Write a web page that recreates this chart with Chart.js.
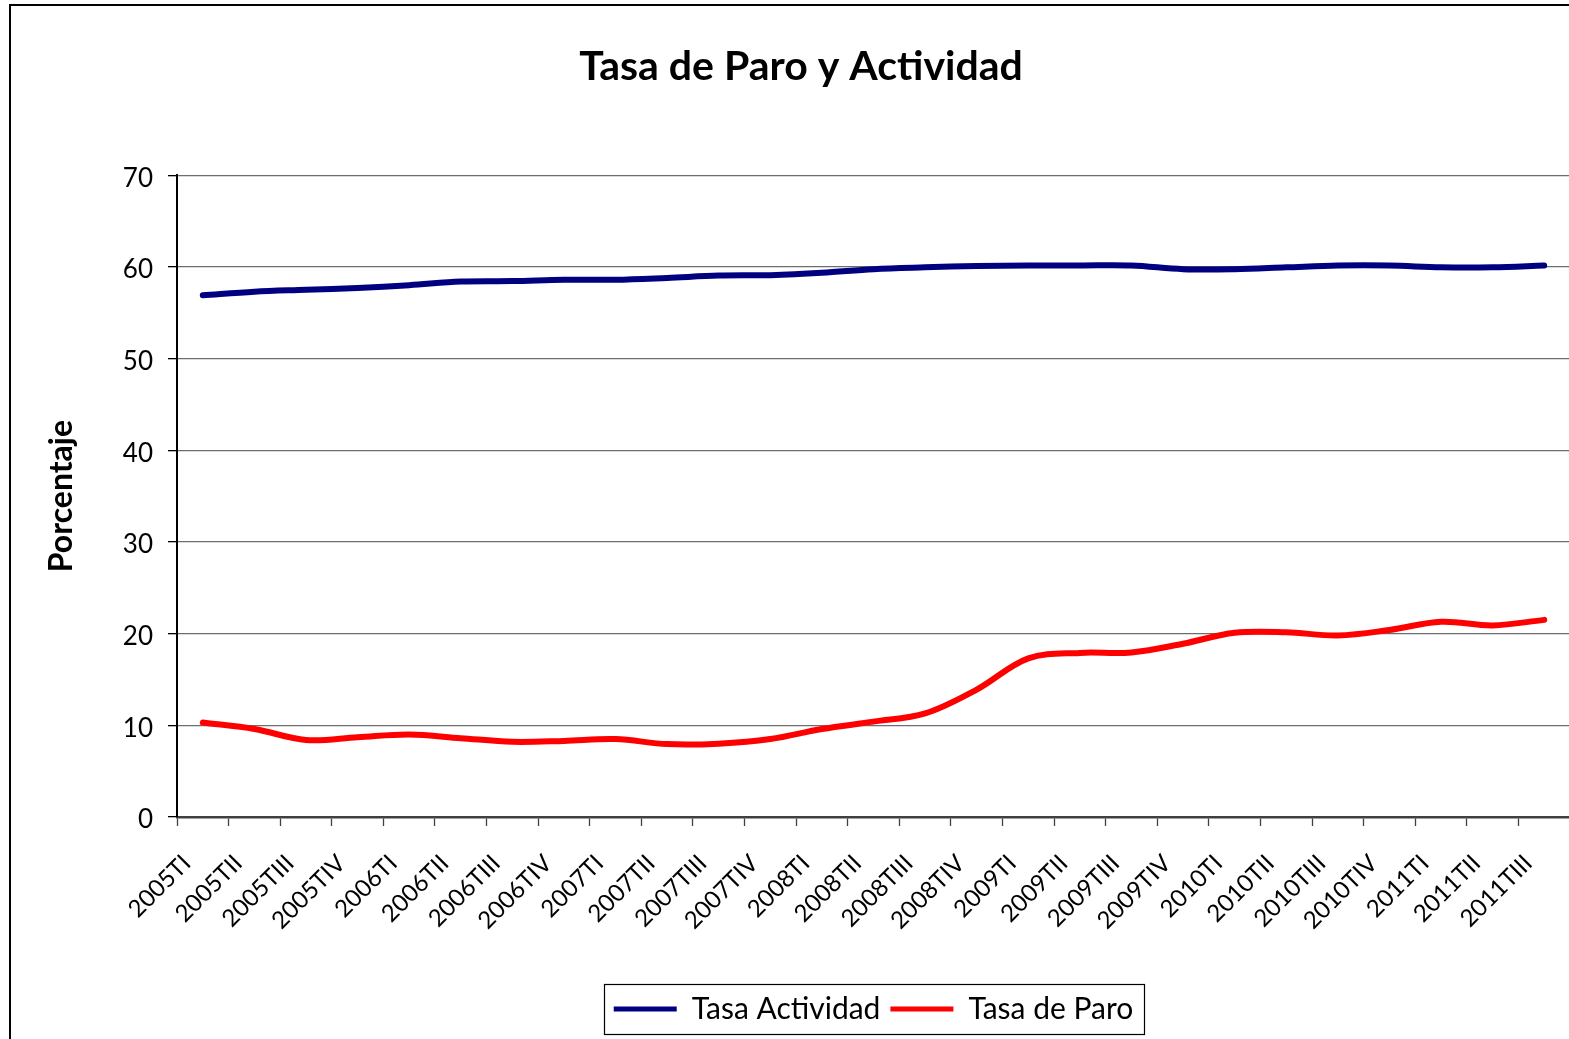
<!DOCTYPE html>
<html>
<head>
<meta charset="utf-8">
<title>Tasa de Paro y Actividad</title>
<script src="https://cdn.jsdelivr.net/npm/chart.js@4.4.1/dist/chart.umd.min.js"></script>
<style>
  html, body { margin: 0; padding: 0; overflow: hidden; background: #fff; }
  #frame {
    position: absolute; left: 9px; top: 4px;
    width: 1580px; height: 1050px;
    border: 2px solid #000;
  }
</style>
</head>
<body>
<div id="frame"><canvas id="chart"></canvas></div>
<script>
// trimestres
const quarters = [
  "2005TI", "2005TII", "2005TIII", "2005TIV",
  "2006TI", "2006TII", "2006TIII", "2006TIV",
  "2007TI", "2007TII", "2007TIII", "2007TIV",
  "2008TI", "2008TII", "2008TIII", "2008TIV",
  "2009TI", "2009TII", "2009TIII", "2009TIV",
  "2010TI", "2010TII", "2010TIII", "2010TIV",
  "2011TI", "2011TII", "2011TIII"
];

// Tasa Actividad (%)
const tasaActividad = [
  56.9, 57.3, 57.5, 57.7, 58.0, 58.4, 58.45, 58.6,
  58.6, 58.8, 59.05, 59.1, 59.35, 59.75, 59.95, 60.1,
  60.15, 60.15, 60.15, 59.75, 59.75, 59.95, 60.15, 60.15,
  59.95, 59.95, 60.15
];

// Tasa de Paro (%)
const tasaParo = [
  10.3, 9.6, 8.4, 8.7, 9.0, 8.6, 8.2, 8.3,
  8.5, 7.95, 8.0, 8.5, 9.6, 10.4, 11.3, 13.9,
  17.3, 17.9, 17.95, 18.9, 20.1, 20.15, 19.8, 20.4,
  21.3, 20.9, 21.5
];

// eje Y
const yMin = 0;
const yMax = 70;
const yStep = 10;

const FONT = "Lato, 'Open Sans', sans-serif";
Chart.defaults.font.family = FONT;
Chart.defaults.color = "#000";

// marco de la leyenda
const legendFrame = {
  id: "legendFrame",
  afterDraw(chart) {
    const boxes = chart.legend && chart.legend.legendHitBoxes;
    if (!boxes || !boxes.length) return;
    const first = boxes[0];
    const last = boxes[boxes.length - 1];
    const x0 = first.left - 10;
    const x1 = last.left + last.width + 10;
    const cy = first.top + first.height / 2;
    const ctx = chart.ctx;
    ctx.save();
    ctx.strokeStyle = "#000";
    ctx.lineWidth = 1.2;
    ctx.strokeRect(Math.round(x0) + 0.5, Math.round(cy - 25) + 0.5, Math.round(x1 - x0), 50);
    ctx.restore();
  },
};

const lineStyle = (color) => ({
  borderColor: color,
  backgroundColor: color,
  borderWidth: 6,
  pointRadius: 0,
  pointHoverRadius: 0,
  tension: 0.35,
  borderCapStyle: "round",
  borderJoinStyle: "round",
  fill: false,
});

new Chart(document.getElementById("chart"), {
  type: "line",
  data: {
    labels: quarters,
    datasets: [
      { label: "Tasa Actividad", data: tasaActividad, ...lineStyle("#000080") },
      { label: "Tasa de Paro", data: tasaParo, ...lineStyle("#ff0000") },
    ],
  },
  options: {
    responsive: true,
    maintainAspectRatio: false,
    animation: false,
    layout: { padding: { left: 21, right: 21, top: 0, bottom: 22 } },
    plugins: {
      title: {
        display: true,
        text: "Tasa de Paro y Actividad",
        color: "#000",
        font: { family: FONT, size: 41, weight: "bold" },
        padding: { top: 36, bottom: 84 },
      },
      legend: {
        position: "bottom",
        fullSize: false,
        labels: {
          boxWidth: 63,
          boxHeight: 5,
          padding: 10,
          color: "#000",
          font: { family: FONT, size: 30 },
          generateLabels(chart) {
            return Chart.defaults.plugins.legend.labels
              .generateLabels(chart)
              .map((item) => ({ ...item, lineWidth: 0 }));
          },
        },
      },
      tooltip: { enabled: false },
    },
    scales: {
      x: {
        offset: true,
        grid: {
          offset: true,
          drawOnChartArea: false,
          drawTicks: true,
          tickLength: 9,
          tickColor: "#404040",
          tickWidth: 1.3,
        },
        border: { color: "#404040", width: 2.5 },
        ticks: {
          autoSkip: false,
          minRotation: 45,
          maxRotation: 45,
          padding: 23,
          labelOffset: -16,
          color: "#000",
          font: { family: FONT, size: 24 },
        },
        afterFit(scale) {
          scale.height = 167;
        },
      },
      y: {
        min: yMin,
        max: yMax,
        ticks: {
          stepSize: yStep,
          padding: 15,
          labelOffset: 3,
          color: "#000",
          font: { family: FONT, size: 26 },
        },
        grid: {
          color: "#6e6e6e",
          lineWidth: 1.3,
          tickColor: "#000",
          tickLength: 9,
        },
        border: { color: "#000", width: 2 },
        title: {
          display: true,
          text: "Porcentaje",
          color: "#000",
          font: { family: FONT, size: 32, weight: "bold" },
          padding: { top: 10, bottom: 0 },
        },
        afterFit(scale) {
          scale.width = 145;
        },
      },
    },
  },
  plugins: [legendFrame],
});
</script>
</body>
</html>
